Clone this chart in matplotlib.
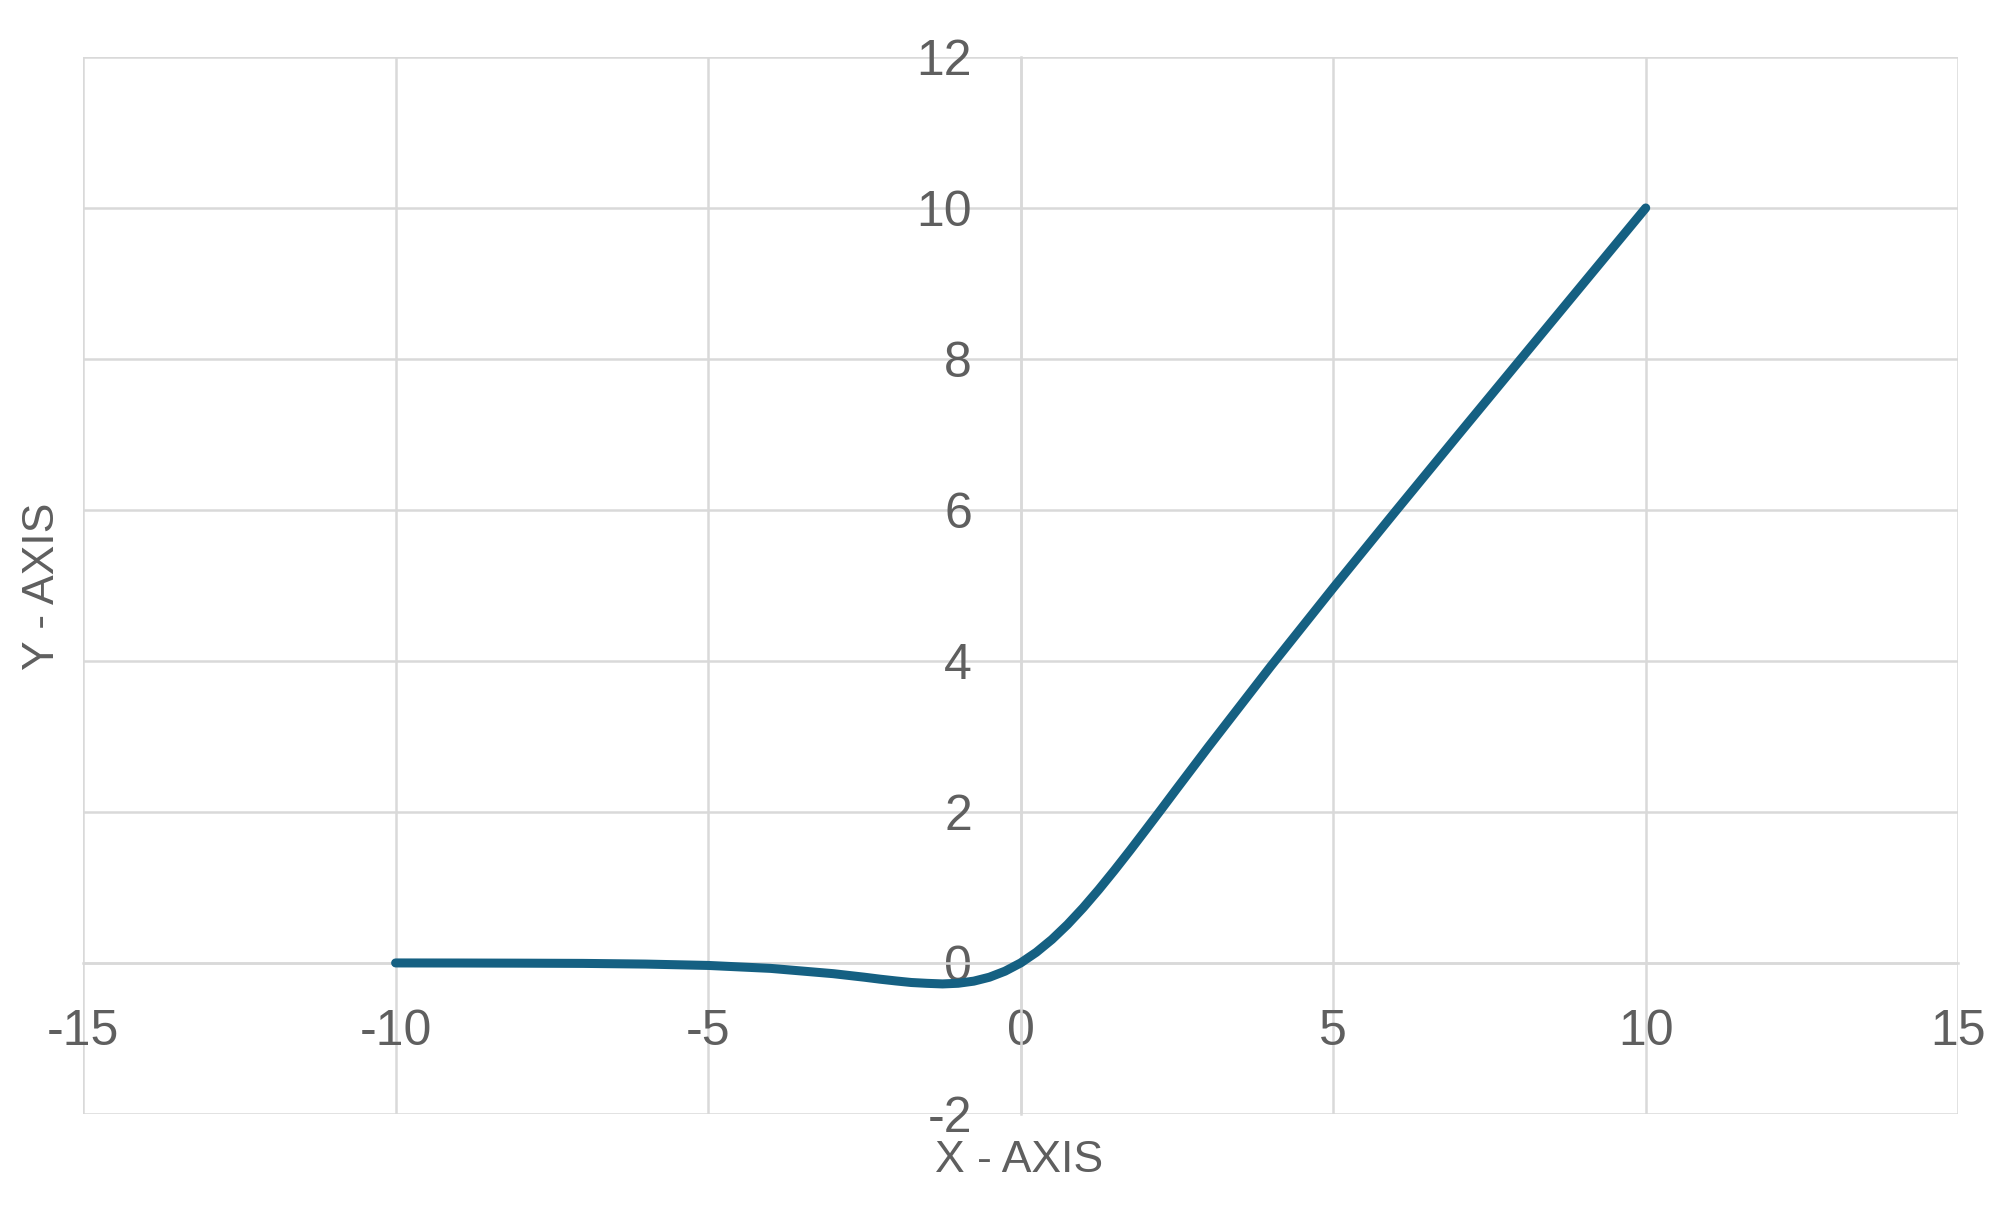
import matplotlib.pyplot as plt
from matplotlib import font_manager

# valores (forma tipo swish)
x_vals = [-10, -9, -8, -7, -6, -5, -4, -3, -2.5, -2.25, -2, -1.75, -1.5, -1.25,
          -1, -0.75, -0.5, -0.25, 0, 0.25, 0.5, 0.75, 1, 1.25, 1.5, 1.75, 2,
          2.25, 2.5, 3, 4, 5, 6, 7, 8, 9, 10]
y_vals = [0.0, -0.001, -0.003, -0.006, -0.015, -0.033, -0.072, -0.142, -0.189,
          -0.215, -0.238, -0.259, -0.27, -0.278, -0.269, -0.241, -0.189, -0.109,
          0.0, 0.141, 0.311, 0.509, 0.731, 0.972, 1.227, 1.491, 1.762, 2.035,
          2.311, 2.858, 3.928, 4.967, 5.985, 6.994, 7.997, 8.999, 10.0]

x_ticks = [-15, -10, -5, 0, 5, 10, 15]
y_ticks = [-2, 0, 2, 4, 6, 8, 10, 12]

names = {f.name for f in font_manager.fontManager.ttflist}
family = 'Liberation Sans Narrow' if 'Liberation Sans Narrow' in names else 'Liberation Sans'
plt.rcParams['font.family'] = [family, 'DejaVu Sans']

text_color = '#5f5f5f'
grid_color = '#d9d9d9'
line_color = '#156082'

fig = plt.figure(figsize=(19.97, 12.07), dpi=100)
ax = fig.add_axes([0.0416, 0.0771, 0.939, 0.8757])

ax.plot(x_vals, y_vals, color=line_color, linewidth=6.5,
        solid_capstyle='round', solid_joinstyle='round', zorder=3)

ax.set_xlim(-15, 15)
ax.set_ylim(-2, 12)
ax.set_xticks(x_ticks)
ax.set_yticks(y_ticks)
ax.set_xticklabels([str(v) for v in x_ticks])
ax.set_yticklabels([str(v) for v in y_ticks])

ax.grid(True, color=grid_color, linewidth=1.8)
for gl in ax.get_xgridlines() + ax.get_ygridlines():
    gl.set_clip_on(False)
ax.set_axisbelow(True)

# ejes cruzando en el origen
ax.spines['left'].set_position(('data', 0))
ax.spines['bottom'].set_position(('data', 0))
for side in ['left', 'bottom']:
    ax.spines[side].set_color(grid_color)
    ax.spines[side].set_linewidth(1.8)
for side in ['top', 'right']:
    ax.spines[side].set_visible(False)

ax.tick_params(axis='x', length=0, pad=33, labelsize=36, labelcolor=text_color)
ax.tick_params(axis='y', length=0, pad=35, labelsize=36, labelcolor=text_color)

fig.text(0.5103, 1 - 1161 / 1207, 'X - AXIS', ha='center', va='center',
         fontsize=32, color=text_color)
fig.text(42 / 1997, 1 - 586 / 1207, 'Y - AXIS', ha='center', va='center',
         rotation=90, fontsize=32, color=text_color)

fig.savefig('out.png', dpi=100, facecolor='white')
